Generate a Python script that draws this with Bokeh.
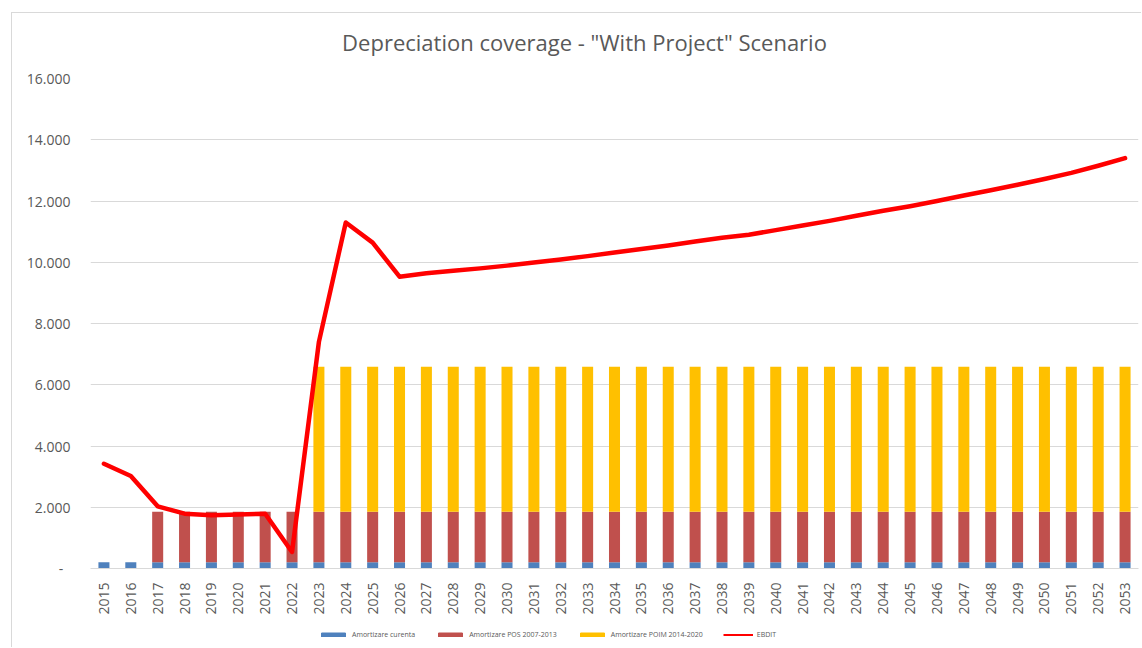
import math
from bokeh.plotting import figure
from bokeh.layouts import column
from bokeh.models import FixedTicker, Legend, LegendItem, ColumnDataSource, Label
from bokeh.embed import file_html
from bokeh.resources import INLINE

years = ["2015", "2016", "2017", "2018", "2019", "2020", "2021", "2022", "2023", "2024",
         "2025", "2026", "2027", "2028", "2029", "2030", "2031", "2032", "2033", "2034",
         "2035", "2036", "2037", "2038", "2039", "2040", "2041", "2042", "2043", "2044",
         "2045", "2046", "2047", "2048", "2049", "2050", "2051", "2052", "2053"]

amortizare_curenta = [205, 205, 205, 205, 205, 205, 205, 205, 205, 205,
                      205, 205, 205, 205, 205, 205, 205, 205, 205, 205,
                      205, 205, 205, 205, 205, 205, 205, 205, 205, 205,
                      205, 205, 205, 205, 205, 205, 205, 205, 205]

amortizare_pos = [0, 0, 1650, 1650, 1650, 1650, 1650, 1650, 1650, 1650,
                  1650, 1650, 1650, 1650, 1650, 1650, 1650, 1650, 1650, 1650,
                  1650, 1650, 1650, 1650, 1650, 1650, 1650, 1650, 1650, 1650,
                  1650, 1650, 1650, 1650, 1650, 1650, 1650, 1650, 1650]

amortizare_poim = [0, 0, 0, 0, 0, 0, 0, 0, 4730, 4730,
                   4730, 4730, 4730, 4730, 4730, 4730, 4730, 4730, 4730, 4730,
                   4730, 4730, 4730, 4730, 4730, 4730, 4730, 4730, 4730, 4730,
                   4730, 4730, 4730, 4730, 4730, 4730, 4730, 4730, 4730]

ebdit = [3420, 3020, 2030, 1790, 1740, 1760, 1790, 540, 7400, 11300,
         10640, 9530, 9640, 9720, 9800, 9890, 9990, 10090, 10200, 10320,
         10430, 10550, 10680, 10800, 10900, 11050, 11200, 11350, 11520, 11680,
         11830, 12000, 12180, 12350, 12530, 12720, 12920, 13150, 13400]

y_ticks = [0, 2000, 4000, 6000, 8000, 10000, 12000, 14000, 16000]
y_tick_labels = ["-\u00a0\u00a0", "2.000", "4.000", "6.000", "8.000", "10.000", "12.000", "14.000", "16.000"]

series_names = ["Amortizare curenta", "Amortizare POS 2007-2013", "Amortizare POIM 2014-2020", "EBDIT"]
series_colors = ["#4f81bd", "#c0504d", "#ffc000", "#ff0000"]
title_text = 'Depreciation coverage - "With Project" Scenario'

FONT = "Open Sans"
TXT = "#595959"
GRID = "#d9d9d9"
BORDER = "1px solid #d9d9d9"

src = ColumnDataSource(dict(year=years, cur=amortizare_curenta, pos=amortizare_pos,
                            poim=amortizare_poim, ebdit=ebdit))

# ---------------- title strip ----------------
tt = figure(width=1130, height=55, x_range=(0, 1), y_range=(0, 1),
            output_backend="svg", toolbar_location=None,
            x_axis_location=None, y_axis_location=None,
            min_border_left=0, min_border_right=0, min_border_top=0, min_border_bottom=0)
tt.margin = (12, 0, 0, 11)
tt.styles = {"border-left": BORDER, "border-top": BORDER}
tt.outline_line_color = None
tt.grid.visible = False
tt.add_layout(Label(x=0.5, y=0.49, x_offset=-30, text=title_text, text_align="center",
                    text_baseline="middle", text_font=FONT, text_font_size="22px",
                    text_color=TXT))

# ---------------- main chart ----------------
p = figure(x_range=years, y_range=(0, 16000), width=1130, height=550,
           output_backend="svg", toolbar_location=None,
           min_border_left=78, min_border_right=4, min_border_top=11, min_border_bottom=48)
p.margin = (0, 0, 0, 11)
p.styles = {"border-left": BORDER}

p.outline_line_color = None
p.background_fill_color = "white"
p.border_fill_color = "white"

p.vbar_stack(["cur", "pos", "poim"], x="year", width=0.41, source=src,
             color=series_colors[:3], line_width=0)

p.line(x="year", y="ebdit", source=src, line_color=series_colors[3], line_width=4.5,
       line_join="round", line_cap="round")

p.xgrid.grid_line_color = None
p.ygrid.grid_line_color = GRID
p.ygrid.grid_line_width = 1
p.yaxis.ticker = FixedTicker(ticks=y_ticks)
p.yaxis.major_label_overrides = {t: l for t, l in zip(y_ticks, y_tick_labels)}
p.yaxis.axis_line_color = None
p.yaxis.major_tick_line_color = None
p.yaxis.major_tick_out = 0
p.yaxis.minor_tick_line_color = None
p.yaxis.major_label_standoff = 20
p.yaxis.major_label_text_font = FONT
p.yaxis.major_label_text_font_size = "14px"
p.yaxis.major_label_text_color = TXT

p.xaxis.axis_line_color = GRID
p.xaxis.major_tick_line_color = None
p.xaxis.major_tick_out = 0
p.xaxis.major_label_orientation = math.pi / 2
p.xaxis.major_label_standoff = 14
p.xaxis.major_label_text_font = FONT
p.xaxis.major_label_text_font_size = "14px"
p.xaxis.major_label_text_color = TXT

# ---------------- legend strip ----------------
lg = figure(width=1130, height=30, x_range=(0, 1), y_range=(0, 1),
            output_backend="svg", toolbar_location=None,
            x_axis_location=None, y_axis_location=None,
            min_border_left=0, min_border_right=0, min_border_top=0, min_border_bottom=0)
lg.margin = (0, 0, 0, 11)
lg.styles = {"border-left": BORDER}
lg.outline_line_color = None
lg.grid.visible = False

# legend proxies, placed outside the visible range
r0 = lg.vbar(x=[-5], top=[-5], width=0.5, color=series_colors[0])
r1 = lg.vbar(x=[-5], top=[-5], width=0.5, color=series_colors[1])
r2 = lg.vbar(x=[-5], top=[-5], width=0.5, color=series_colors[2])
r3 = lg.line(x=[-6, -5], y=[-5, -5], line_color=series_colors[3], line_width=2)

legend = Legend(items=[LegendItem(label=series_names[0], renderers=[r0]),
                       LegendItem(label=series_names[1], renderers=[r1]),
                       LegendItem(label=series_names[2], renderers=[r2]),
                       LegendItem(label=series_names[3], renderers=[r3])],
                orientation="horizontal", location=(228, 8),
                glyph_width=30, glyph_height=5, label_height=10, label_standoff=4,
                spacing=20, padding=0, margin=0, border_line_color=None,
                background_fill_alpha=0,
                label_text_font=FONT, label_text_font_size="7px", label_text_color=TXT)
lg.add_layout(legend, "center")

layout = column(tt, p, lg, spacing=0)
open("out.html", "w").write(file_html(layout, INLINE))
